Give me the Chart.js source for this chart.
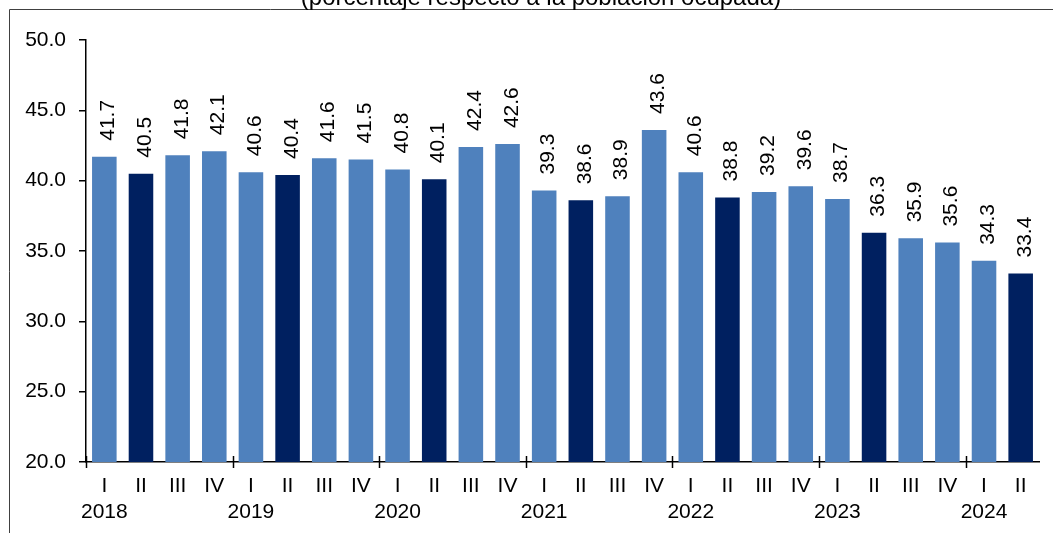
<!DOCTYPE html>
<html>
<head>
<meta charset="utf-8">
<script src="https://cdn.jsdelivr.net/npm/chart.js@4.4.1/dist/chart.umd.min.js"></script>
<style>
  html, body { margin: 0; padding: 0; background: #ffffff; }
  #wrap { width: 1053px; height: 533px; position: relative; }
</style>
</head>
<body>
<div id="wrap"><canvas id="c" width="1053" height="533"></canvas></div>
<script>
const title = '(porcentaje respecto a la población ocupada)';
const years = ['2018', '2019', '2020', '2021', '2022', '2023', '2024'];
const quarters = ['I','II','III','IV','I','II','III','IV','I','II','III','IV','I','II','III','IV','I','II','III','IV','I','II','III','IV','I','II'];
const values = [41.7, 40.5, 41.8, 42.1, 40.6, 40.4, 41.6, 41.5, 40.8, 40.1, 42.4, 42.6, 39.3, 38.6, 38.9, 43.6, 40.6, 38.8, 39.2, 39.6, 38.7, 36.3, 35.9, 35.6, 34.3, 33.4];
const yTicks = [20, 25, 30, 35, 40, 45, 50];

const FONT = '"Liberation Sans", Arial, sans-serif';
const LIGHT = '#4F81BD';
const DARK = '#002060';

let yi = -1;
const labels = quarters.map(q => {
  if (q === 'I') { yi++; return [q, years[yi]]; }
  return [q, ''];
});
const colors = quarters.map(q => q === 'II' ? DARK : LIGHT);

const extras = {
  id: 'extras',
  afterDraw(chart) {
    const ctx = chart.ctx;
    const xs = chart.scales.x;
    const meta = chart.getDatasetMeta(0);
    ctx.save();
    // frame
    ctx.strokeStyle = '#404040';
    ctx.lineWidth = 1;
    ctx.beginPath();
    ctx.moveTo(9.5, 533);
    ctx.lineTo(9.5, 9.5);
    ctx.lineTo(1053, 9.5);
    ctx.stroke();
    // title (cut off at top)
    ctx.fillStyle = '#000';
    ctx.font = '24px ' + FONT;
    ctx.textAlign = 'center';
    ctx.textBaseline = 'alphabetic';
    ctx.fillText(title, 541, 5);
    // year boundary ticks crossing the axis
    const axisY = chart.scales.y.getPixelForValue(20);
    const step = xs.getPixelForValue(1) - xs.getPixelForValue(0);
    ctx.strokeStyle = '#000';
    ctx.lineWidth = 1.5;
    quarters.forEach((q, i) => {
      if (q !== 'I') return;
      const x = Math.round(xs.getPixelForValue(i) - step / 2) + 0.5;
      ctx.beginPath();
      ctx.moveTo(x, axisY - 6);
      ctx.lineTo(x, axisY + 6);
      ctx.stroke();
    });
    // rotated value labels
    ctx.fillStyle = '#000';
    ctx.font = '21px ' + FONT;
    ctx.textAlign = 'left';
    ctx.textBaseline = 'alphabetic';
    meta.data.forEach((bar, i) => {
      ctx.save();
      ctx.translate(bar.x + 10, bar.y - 16);
      ctx.rotate(-Math.PI / 2);
      ctx.fillText(values[i].toFixed(1), 0, 0);
      ctx.restore();
    });
    ctx.restore();
  }
};

new Chart(document.getElementById('c'), {
  type: 'bar',
  data: {
    labels: labels,
    datasets: [{
      data: values,
      backgroundColor: colors,
      borderWidth: 0,
      categoryPercentage: 1.0,
      barPercentage: 0.67
    }]
  },
  options: {
    responsive: false,
    animation: false,
    devicePixelRatio: 1,
    layout: { padding: { top: 40, right: 14, bottom: 0, left: 0 } },
    plugins: { legend: { display: false }, tooltip: { enabled: false }, title: { display: false } },
    scales: {
      x: {
        offset: true,
        grid: { display: false, drawTicks: false, tickLength: 0 },
        border: { display: true, color: '#000', width: 1.5 },
        ticks: {
          color: '#000',
          font: { family: FONT, size: 21, lineHeight: 1.25 },
          padding: 11,
          maxRotation: 0,
          minRotation: 0,
          autoSkip: false
        },
        afterFit(s) { s.height = 71; }
      },
      y: {
        min: 20,
        max: 50,
        afterBuildTicks(s) { s.ticks = yTicks.map(v => ({ value: v })); },
        grid: { drawOnChartArea: false, drawTicks: true, tickLength: 7, color: '#000', lineWidth: 1.5 },
        border: { display: true, color: '#000', width: 1.5 },
        ticks: {
          color: '#000',
          font: { family: FONT, size: 21 },
          padding: 13,
          callback: v => Number(v).toFixed(1)
        },
        afterFit(s) { s.width = 86; }
      }
    }
  },
  plugins: [extras]
});
</script>
</body>
</html>
